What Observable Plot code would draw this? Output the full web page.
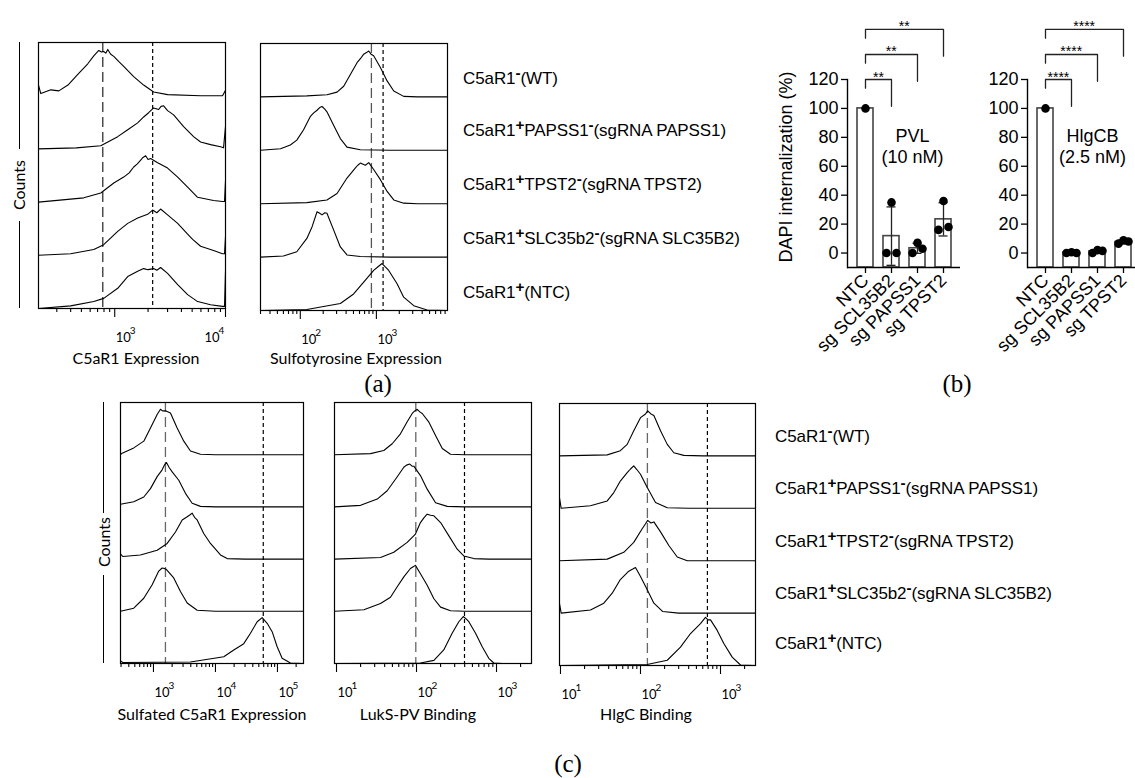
<!DOCTYPE html>
<html>
<head>
<meta charset="utf-8">
<script src="https://cdn.jsdelivr.net/npm/d3@7"></script>
<script src="https://cdn.jsdelivr.net/npm/@observablehq/plot@0.6"></script>
<style>
html,body{margin:0;padding:0;background:#fff;}
body{width:1135px;height:778px;overflow:hidden;position:relative;}
.abs{position:absolute;white-space:nowrap;color:#000;}
.flow{font-family:Lato,"Open Sans",sans-serif;font-size:16px;transform:translate(-50%,-50%);}
.counts{font-family:Lato,"Open Sans",sans-serif;font-size:16px;transform:translate(-50%,-50%) rotate(-90deg);}
.rowlab{font-family:"Liberation Sans",Arial,sans-serif;font-size:17px;transform:translateY(-50%);letter-spacing:-0.1px;}
.rowlab sup{font-size:0.9em;font-weight:bold;vertical-align:0;position:relative;top:-0.42em;line-height:0;}
.panel{font-family:"Liberation Serif",serif;font-size:25px;transform:translate(-50%,-50%);}
.ylab{font-family:"Liberation Sans",Arial,sans-serif;font-size:18px;transform:translate(-50%,-50%) rotate(-90deg);}
.vline{position:absolute;width:0;border-left:1.3px solid #000;}
</style>
</head>
<body>
<script>
// ---------- Row labels ----------
const rowLabels = [
  "C5aR1^-(WT)",
  "C5aR1^+PAPSS1^-(sgRNA PAPSS1)",
  "C5aR1^+TPST2^-(sgRNA TPST2)",
  "C5aR1^+SLC35b2^-(sgRNA SLC35B2)",
  "C5aR1^+(NTC)"
];

// ---------- Histogram data: [value, count as % of row height] ----------
const c5ar1Expression = [
  [[205,20],[215,4],[265,11],[313,9],[378,20],[464,40],[571,60],[647,75],[718,85],[760,82],[795,83],[830,80],[865,87],[920,78],[980,74],[1090,64],[1205,55],[1483,36],[1824,20],[2245,7],[3000,2],[5960,0],[9400,0],[10000,10]],
  [[205,0],[450,2],[748,6],[1064,23],[1310,36],[1611,49],[1824,60],[2024,68],[2245,77],[2490,74],[2620,80],[2762,81],[3000,72],[3404,64],[4187,42],[5150,23],[5960,13],[7330,8],[9020,4],[9600,2],[10000,42]],
  [[205,0],[526,8],[748,17],[980,36],[1205,47],[1350,55],[1483,66],[1600,72],[1715,79],[1800,84],[1900,87],[2000,80],[2110,82],[2440,74],[3000,64],[3700,47],[4550,28],[5600,9],[7800,3],[9400,1],[9800,1],[10000,40]],
  [[205,0],[400,3],[647,11],[795,20],[1064,45],[1310,60],[1611,70],[1982,77],[2198,85],[2400,80],[2594,87],[3000,76],[3700,60],[4550,40],[5050,30],[5960,17],[7800,9],[9400,3],[9800,3],[10000,35]],
  [[205,0],[400,5],[647,13],[795,19],[1064,38],[1310,60],[1611,70],[1824,75],[2000,73],[2245,75],[2400,72],[2594,77],[3000,66],[3700,45],[4550,26],[5600,13],[7330,7],[9400,4],[9800,4],[10000,70]]
];
const sulfotyrosineExpression = [
  [[30,0],[122,2],[224,4],[304,9],[372,20],[455,42],[557,64],[620,72],[681,80],[740,83],[793,86],[850,80],[921,77],[1129,55],[1383,30],[1692,11],[2284,1],[3500,0],[8600,0]],
  [[30,0],[55,3],[74,10],[90,19],[110,38],[135,63],[150,70],[166,75],[180,80],[193,82],[210,77],[224,72],[274,47],[336,22],[411,6],[615,1],[1500,0],[8600,0]],
  [[30,0],[122,2],[224,7],[304,19],[411,48],[530,67],[570,72],[615,76],[716,72],[793,77],[921,64],[1129,45],[1383,23],[1692,7],[2284,1],[3500,0],[8600,0]],
  [[30,0],[60,2],[90,10],[122,35],[143,57],[166,85],[180,82],[193,79],[210,83],[224,82],[274,51],[336,19],[411,4],[615,1],[1500,0],[8600,0]],
  [[30,0],[122,2],[336,13],[502,31],[681,53],[921,75],[1050,82],[1188,88],[1300,82],[1452,75],[1871,50],[2284,25],[3097,9],[4640,1],[8600,0]]
];
const sulfatedC5aR1 = [
  [[294,0],[313,3],[481,13],[698,26],[895,51],[1147,77],[1297,87],[1400,84],[1563,84],[1880,80],[2410,51],[3085,26],[3950,7],[5730,1],[10000,0],[263000,0]],
  [[294,5],[481,10],[698,19],[895,35],[1147,58],[1380,71],[1500,80],[1622,85],[1800,75],[2005,67],[2560,51],[3280,26],[4210,7],[5730,1],[10000,0],[263000,0]],
  [[294,10],[320,5],[616,8],[1147,17],[1664,30],[2265,52],[2905,75],[3500,81],[3900,85],[4210,88],[4600,80],[5070,75],[6470,49],[8300,30],[12050,8],[15450,1],[30000,0],[263000,0]],
  [[294,0],[481,6],[698,25],[953,51],[1217,77],[1380,83],[1500,82],[1622,80],[2124,64],[2725,38],[3500,16],[5070,2],[10000,0],[263000,0]],
  [[294,5],[320,2],[3950,3],[13600,13],[19740,26],[28600,38],[36700,58],[47100,80],[56700,88],[68200,77],[82100,61],[98900,32],[119000,10],[162000,1],[263000,0]]
];
const luksPVBinding = [
  [[9.44,0],[26.6,2],[39,8],[49.7,21],[63,40],[76.5,63],[88.4,79],[95,84],[102,87],[110,82],[118,79],[142,63],[173,37],[210,12],[266,1],[400,0],[2738,0]],
  [[9.44,0],[20,3],[32.3,15],[43,31],[54.6,53],[69.4,76],[75,80],[82.4,82],[88,78],[92.5,78],[112,60],[136,34],[173,8],[242,1],[400,0],[2738,0]],
  [[9.44,0],[35.5,3],[52,13],[76.5,32],[97,48],[112,70],[125,80],[136,86],[150,84],[165,83],[200,70],[253,45],[323,19],[390,6],[520,1],[800,0],[2738,0]],
  [[9.44,0],[22,3],[35.5,15],[47.3,27],[57.4,47],[69.4,66],[84,82],[90,85],[97,88],[112,72],[136,50],[165,24],[200,8],[266,1],[400,0],[2738,0]],
  [[9.44,0],[112,1],[165,6],[219,26],[279,58],[338,80],[384,90],[420,85],[451,80],[547,58],[663,32],[801,10],[925,1],[1200,0],[2738,0]]
];
const hlgCBinding = [
  [[9.72,0],[38.4,2],[56,10],[68.2,22],[82.4,48],[100,73],[115.5,80],[123,86],[135,80],[147,77],[178,48],[216,22],[261,6],[348,1],[600,0],[2738,0]],
  [[9.72,20],[10.2,0],[23.7,5],[38.4,14],[46.4,30],[56,52],[68.2,68],[75,75],[82.4,81],[90,74],[100,65],[121,40],[154,11],[216,1],[400,0],[2738,0]],
  [[9.72,0],[38.4,3],[61.8,16],[82.4,35],[105,61],[115,70],[123,77],[135,72],[147,74],[178,55],[226,29],[288,7],[384,0],[2738,0]],
  [[9.72,18],[10.2,0],[23.7,6],[34.8,19],[44.3,38],[56,64],[71.4,80],[80,84],[86.6,87],[100,70],[121,45],[147,19],[190,3],[300,0],[2738,0]],
  [[9.72,0],[121,2],[216,10],[316,35],[422,61],[562,80],[649,92],[700,87],[750,87],[910,67],[1100,42],[1400,16],[1778,1],[2738,0]]
];

// axis domains, decades and reference gates
const histTitles = ["C5aR1 Expression","Sulfotyrosine Expression","Sulfated C5aR1 Expression","LukS-PV Binding","HlgC Binding"];
const histDomains = [[205,10000],[30,8600],[294,263000],[9.44,2738],[9.72,2738]];
const histDecades = [[1e3,1e4],[1e2,1e3],[1e3,1e4,1e5],[1e1,1e2,1e3],[1e1,1e2,1e3]];
const longGate = [780, 860, 1560, 98, 122];
const shortGate = [2200, 1225, 59000, 398, 686];

// ---------- Bar chart data ----------
const categories = ["NTC","sg SCL35B2","sg PAPSS1","sg TPST2"];
const pvlMean = [100, 11.7, 3.3, 23.3];
const pvlSD = [0, 20.2, 3.5, 11.5];
const pvlReps = [[100],[0,35,0],[0,7,3],[16,36,18]];
const pvlSig = ["**","**","**"];
const pvlLabel = ["PVL","(10 nM)"];
const hlgMean = [100, 0.2, 1.2, 7.6];
const hlgSD = [0, 0.3, 1.0, 1.3];
const hlgReps = [[100],[0,0.5,0],[0,2,1.5],[6.5,8.8,8]];
const hlgSig = ["****","****","****"];
const hlgLabel = ["HlgCB","(2.5 nM)"];
const yTicks = [0,20,40,60,80,100,120];
const yLabel = "DAPI internalization (%)";

// ---------- helpers ----------
const FLOW_FONT = "Lato, 'Open Sans', sans-serif";
const BAR_FONT = "'Liberation Sans', Arial, sans-serif";
function put(el, left, top) {
  el.style.position = "absolute";
  el.style.left = left + "px";
  el.style.top = top + "px";
  document.body.appendChild(el);
  return el;
}
function div(cls, html, x, y) {
  const d = document.createElement("div");
  d.className = "abs " + cls;
  d.innerHTML = html;
  return put(d, x, y);
}
function vline(x, y0, y1) {
  const d = document.createElement("div");
  d.className = "vline";
  d.style.height = (y1 - y0) + "px";
  return put(d, x, y0);
}
function richLabel(s) {
  return s.replace(/\^(.)/g, (m, c) => "<sup>" + c + "</sup>");
}

function histPanel(idx, series, box, longColor) {
  const [x0, y0, x1, y1] = box;
  const ml = 2, mr = 2, mt = 2, mb = 50;
  const W = x1 - x0, H = y1 - y0;
  const n = series.length;
  const domain = histDomains[idx];
  const pts = series.flatMap((s, i) => s.map(([x, c]) => ({row: i, x, y: (n - 1 - i) + c / 100})));
  const lo = Math.floor(Math.log10(domain[0])), hi = Math.ceil(Math.log10(domain[1]));
  const minor = [];
  for (let e = lo; e <= hi; e++) for (let k = 2; k <= 9; k++) {
    const v = k * Math.pow(10, e);
    if (v >= domain[0] && v <= domain[1]) minor.push(v);
  }
  const decades = histDecades[idx];
  const atEdge = d => Math.log10(domain[1]) - Math.log10(d) < 0.08;
  const inner = decades.filter(d => !atEdge(d));
  const edge = decades.filter(atEdge);
  const exp = d => String(Math.round(Math.log10(d)));
  const labMarks = (data, dx) => [
    Plot.text(data, {x: d => d, frameAnchor: "bottom", text: () => "10", textAnchor: "start", lineAnchor: "bottom", dx: dx, dy: 33, fontSize: 13}),
    Plot.text(data, {x: d => d, frameAnchor: "bottom", text: exp, textAnchor: "start", lineAnchor: "bottom", dx: dx + 14, dy: 25, fontSize: 10})
  ];
  const svg = Plot.plot({
    width: W + ml + mr, height: H + mt + mb,
    marginLeft: ml, marginRight: mr, marginTop: mt, marginBottom: mb,
    x: {type: "log", domain},
    y: {domain: [0, n], axis: null},
    style: {fontFamily: FLOW_FONT, background: "transparent", overflow: "visible", color: "#000"},
    marks: [
      Plot.ruleX([longGate[idx]], {stroke: longColor, strokeWidth: 1.3, strokeDasharray: "10,5"}),
      Plot.ruleX([shortGate[idx]], {stroke: "#000", strokeWidth: 1.2, strokeDasharray: "4,3"}),
      Plot.line(pts, {x: "x", y: "y", z: "row", stroke: "#000", strokeWidth: 1.1}),
      Plot.frame({stroke: "#000", strokeWidth: 1.2}),
      Plot.axisX(minor, {tickSize: 4, tickFormat: () => "", label: null, strokeWidth: 1.1}),
      Plot.axisX(decades, {tickSize: 9, tickFormat: () => "", label: null, strokeWidth: 1.1}),
      ...labMarks(inner, 1),
      ...labMarks(edge, -21)
    ]
  });
  put(svg, x0 - ml, y0 - mt);
}

function barPanel(left, means, sds, reps, sig, label, withYLabel) {
  const ml = 77, mr = 12, mt = 79, mb = 120, W = 113, H = 188;
  const pI = 0.385, pO = 0.346;
  const step = W / (categories.length - pI + 2 * pO);
  const stats = categories.map((c, i) => ({cat: c, mean: means[i], sd: sds[i]}));
  const dots = categories.flatMap((c, i) => reps[i].map((v, j, arr) => ({cat: c, v, slot: arr.length === 1 ? 1 : j})));
  const caps = stats.filter(d => d.sd > 0).flatMap(d => [{cat: d.cat, y: d.mean - d.sd}, {cat: d.cat, y: d.mean + d.sd}]);
  const brackets = sig.flatMap((s, k) => {
    const top = 120 + k * 17.3;
    return [
      {b: k, cat: categories[0], y: top - 6},
      {b: k, cat: categories[0], y: top},
      {b: k, cat: categories[k + 1], y: top},
      {b: k, cat: categories[k + 1], y: top - 18.5}
    ];
  });
  const sigMarks = sig.map((s, k) => Plot.text([s], {
    x: () => categories[k + 1], y: () => 120 + k * 17.3, text: d => d,
    dx: -step * (k + 1) / 2, dy: 2, lineAnchor: "bottom", fontSize: 14, fontFamily: BAR_FONT
  }));
  const svg = Plot.plot({
    width: ml + W + mr, height: mt + H + mb,
    marginLeft: ml, marginRight: mr, marginTop: mt, marginBottom: mb,
    x: {type: "band", domain: categories, paddingInner: pI, paddingOuter: pO},
    y: {domain: [-10, 120]},
    style: {fontFamily: BAR_FONT, fontSize: "18px", background: "transparent", overflow: "visible", color: "#000"},
    marks: [
      Plot.barY(stats, {x: "cat", y1: -10, y2: "mean", fill: "white", stroke: "#444", strokeWidth: 1.6}),
      Plot.ruleX(stats.filter(d => d.sd > 0), {x: "cat", y1: d => d.mean - d.sd, y2: d => d.mean + d.sd, stroke: "#222", strokeWidth: 1.3}),
      Plot.tickY(caps, {x: "cat", y: "y", stroke: "#222", strokeWidth: 1.3, insetLeft: 3.5, insetRight: 3.5}),
      Plot.dot(dots.filter(d => d.slot === 0), {x: "cat", y: "v", r: 4.3, fill: "#000", dx: -5}),
      Plot.dot(dots.filter(d => d.slot === 1), {x: "cat", y: "v", r: 4.3, fill: "#000"}),
      Plot.dot(dots.filter(d => d.slot === 2), {x: "cat", y: "v", r: 4.3, fill: "#000", dx: 5}),
      Plot.line(brackets, {x: "cat", y: "y", z: "b", stroke: "#222", strokeWidth: 1.3}),
      ...sigMarks,
      Plot.text([label[0]], {x: () => categories[2], y: () => 81, text: d => d, dx: -5, fontSize: 18}),
      Plot.text([label[1]], {x: () => categories[2], y: () => 66, text: d => d, dx: -5, fontSize: 18}),
      Plot.ruleY([-10], {stroke: "#000", strokeWidth: 1.4}),
      Plot.frame({anchor: "left", stroke: "#000", strokeWidth: 1.4}),
      Plot.axisY(yTicks, {tickSize: 6, tickPadding: 3, fontSize: 18, label: null, strokeWidth: 1.3}),
      Plot.axisX({tickRotate: -45, tickSize: 6, tickPadding: 4, fontSize: 18, label: null, strokeWidth: 1.3})
    ]
  });
  put(svg, left - ml, 0);
  if (withYLabel) div("ylab", yLabel, 786, 167);
}

// ---------- panel (a) ----------
histPanel(0, c5ar1Expression, [38, 42, 225, 308], "#333");
histPanel(1, sulfotyrosineExpression, [260, 43, 447, 310], "#555");
div("flow", histTitles[0], 136, 357);
div("flow", histTitles[1], 356, 357);
div("counts", "Counts", 18, 185);
vline(19, 42, 149);
vline(19, 221, 308);
[79, 131, 185, 239, 293].forEach((y, i) => div("rowlab", richLabel(rowLabels[i]), 463, y));
div("panel", "(a)", 378, 384);

// ---------- panel (b) ----------
barPanel(847, pvlMean, pvlSD, pvlReps, pvlSig, pvlLabel, true);
barPanel(1027, hlgMean, hlgSD, hlgReps, hlgSig, hlgLabel, false);
div("panel", "(b)", 957, 384);

// ---------- panel (c) ----------
histPanel(2, sulfatedC5aR1, [120, 402, 303, 663], "#666");
histPanel(3, luksPVBinding, [334, 402, 531, 663], "#666");
histPanel(4, hlgCBinding, [559, 403, 755, 665], "#666");
div("flow", histTitles[2], 212, 713);
div("flow", histTitles[3], 418, 713);
div("flow", histTitles[4], 646, 713);
div("counts", "Counts", 103, 542);
vline(103, 402, 513);
vline(103, 575, 663);
[437, 489, 542, 594, 644].forEach((y, i) => div("rowlab", richLabel(rowLabels[i]), 775, y));
div("panel", "(c)", 568, 764);
</script>
</body>
</html>
